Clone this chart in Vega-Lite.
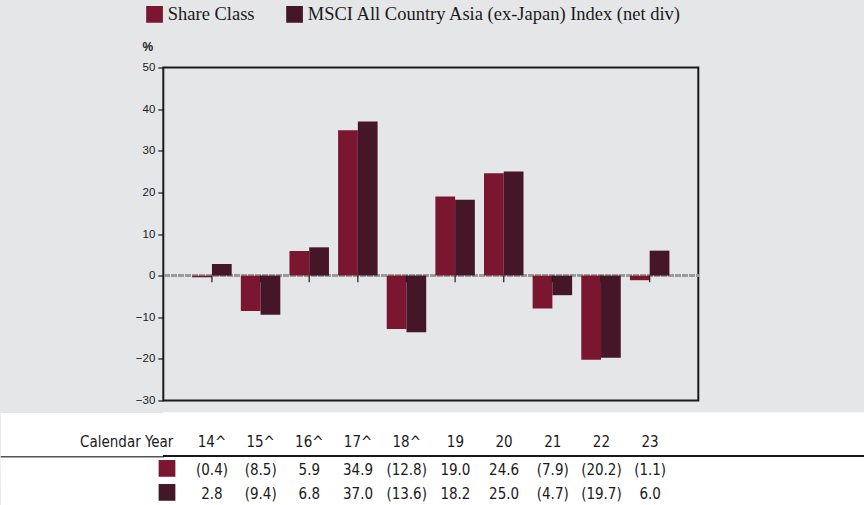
{
  "$schema": "https://vega.github.io/schema/vega-lite/v6.json",
  "padding": {"left": -31.7, "top": 3.5, "right": 0, "bottom": 0},
  "background": "#e5e6e8",
  "spacing": 4.8,
  "config": {"view": {"stroke": null}},
  "resolve": {"scale": {"color": "independent"}},
  "datasets": {
    "returns": [
      {"year": "14^", "series": "Share Class", "value": -0.4},
      {"year": "14^", "series": "MSCI All Country Asia (ex-Japan) Index (net div)", "value": 2.8},
      {"year": "15^", "series": "Share Class", "value": -8.5},
      {"year": "15^", "series": "MSCI All Country Asia (ex-Japan) Index (net div)", "value": -9.4},
      {"year": "16^", "series": "Share Class", "value": 5.9},
      {"year": "16^", "series": "MSCI All Country Asia (ex-Japan) Index (net div)", "value": 6.8},
      {"year": "17^", "series": "Share Class", "value": 34.9},
      {"year": "17^", "series": "MSCI All Country Asia (ex-Japan) Index (net div)", "value": 37.0},
      {"year": "18^", "series": "Share Class", "value": -12.8},
      {"year": "18^", "series": "MSCI All Country Asia (ex-Japan) Index (net div)", "value": -13.6},
      {"year": "19", "series": "Share Class", "value": 19.0},
      {"year": "19", "series": "MSCI All Country Asia (ex-Japan) Index (net div)", "value": 18.2},
      {"year": "20", "series": "Share Class", "value": 24.6},
      {"year": "20", "series": "MSCI All Country Asia (ex-Japan) Index (net div)", "value": 25.0},
      {"year": "21", "series": "Share Class", "value": -7.9},
      {"year": "21", "series": "MSCI All Country Asia (ex-Japan) Index (net div)", "value": -4.7},
      {"year": "22", "series": "Share Class", "value": -20.2},
      {"year": "22", "series": "MSCI All Country Asia (ex-Japan) Index (net div)", "value": -19.7},
      {"year": "23", "series": "Share Class", "value": -1.1},
      {"year": "23", "series": "MSCI All Country Asia (ex-Japan) Index (net div)", "value": 6.0}
    ]
  },
  "vconcat": [
    {
      "width": 535,
      "height": 333,
      "view": {"stroke": "#1a1a1a", "strokeWidth": 2, "fill": null},
      "data": {"name": "returns"},
      "layer": [
        {
          "mark": {"type": "rule", "color": "#9a9a9a", "strokeWidth": 2, "strokeDash": [2, 1.5]},
          "encoding": {"y": {"datum": 0, "type": "quantitative"}}
        },
        {
          "mark": {"type": "bar"},
          "encoding": {
            "x": {
              "field": "year", "type": "nominal", "sort": null,
              "scale": {"paddingInner": 0.188, "paddingOuter": 0.594},
              "axis": null
            },
            "xOffset": {
              "field": "series", "type": "nominal",
              "sort": ["Share Class", "MSCI All Country Asia (ex-Japan) Index (net div)"],
              "scale": {"paddingInner": 0, "paddingOuter": 0}
            },
            "y": {
              "field": "value", "type": "quantitative",
              "scale": {"domain": [-30, 50], "nice": false, "zero": false},
              "axis": {
                "title": "%", "titleAngle": 0, "titleFontWeight": "bold",
                "titleFont": "Liberation Sans", "titleFontSize": 12, "titleColor": "#1a1a1a",
                "titleX": -16, "titleY": -17, "titleAlign": "center", "titleBaseline": "alphabetic",
                "values": [-30, -20, -10, 0, 10, 20, 30, 40, 50],
                "domain": false, "grid": false,
                "tickSize": 5.5, "tickWidth": 1.2, "tickColor": "#1a1a1a",
                "labelFont": "Liberation Sans", "labelFontSize": 11.5, "labelColor": "#1a1a1a",
                "labelPadding": 3
              }
            },
            "color": {
              "field": "series", "type": "nominal",
              "scale": {
                "domain": ["Share Class", "MSCI All Country Asia (ex-Japan) Index (net div)"],
                "range": ["#7b1631", "#441628"]
              },
              "legend": {
                "title": null, "orient": "none", "legendX": -18, "legendY": -62.5,
                "direction": "horizontal", "symbolType": "square", "symbolSize": 280,
                "symbolStrokeWidth": 0, "symbolOpacity": 1,
                "labelFont": "Liberation Serif", "labelFontSize": 18.5, "labelColor": "#1a1a1a",
                "labelOffset": 4, "columnPadding": 30, "labelLimit": 600, "padding": 0
              }
            }
          }
        },
        {
          "transform": [{"filter": "datum.series === 'Share Class'"}],
          "mark": {"type": "rule", "color": "#1a1a1a", "strokeWidth": 1.2},
          "encoding": {
            "x": {"field": "year", "type": "nominal", "sort": null},
            "y": {"datum": 0, "type": "quantitative"},
            "y2": {"datum": -1.6}
          }
        }
      ]
    },
    {
      "width": 701,
      "height": 93,
      "view": {"fill": "white", "stroke": null},
      "data": {"name": "returns"},
      "layer": [
        {
          "mark": {"type": "rule", "color": "#1a1a1a", "strokeWidth": 1.3},
          "encoding": {
            "y": {
              "datum": "line", "type": "nominal",
              "scale": {
                "type": "point",
                "domain": ["hdr", "line", "Share Class", "gap", "MSCI All Country Asia (ex-Japan) Index (net div)"],
                "range": [31.7, 79.7], "padding": 0
              },
              "axis": {
                "title": null, "labels": false, "domain": false, "grid": false,
                "tickSize": 163,
                "tickColor": {"condition": {"test": "datum.value === 'line'", "value": "#1a1a1a"}, "value": "#ffffff"},
                "tickWidth": {
                  "condition": [
                    {"test": "datum.value === 'hdr'", "value": 63.4},
                    {"test": "datum.value === 'line'", "value": 1.3},
                    {"test": "datum.value === 'Share Class'", "value": 22},
                    {"test": "datum.value === 'gap'", "value": 1}
                  ],
                  "value": 27.4
                }
              }
            }
          }
        },
        {
          "transform": [{"filter": "datum.series === 'Share Class'"}],
          "mark": {"type": "text", "font": "DejaVu Sans Condensed", "fontSize": 15, "color": "#1a1a1a", "baseline": "middle", "dy": -2},
          "encoding": {
            "x": {
              "field": "year", "type": "nominal",
              "scale": {"type": "point", "domain": ["lab", "14^", "15^", "16^", "17^", "18^", "19", "20", "21", "22", "23"], "range": [0, 486.8], "padding": 0},
              "axis": null
            },
            "y": {"datum": "hdr", "type": "nominal"},
            "text": {"field": "year"}
          }
        },
        {
          "transform": [{"filter": "datum.series === 'Share Class' && datum.year === '14^'"}],
          "mark": {"type": "text", "font": "DejaVu Sans Condensed", "fontSize": 15, "color": "#1a1a1a", "baseline": "middle", "align": "right", "dx": 10, "dy": -2},
          "encoding": {
            "x": {"datum": "lab", "type": "nominal"},
            "y": {"datum": "hdr", "type": "nominal"},
            "text": {"value": "Calendar Year"}
          }
        },
        {
          "transform": [{"filter": "datum.year === '14^'"}],
          "mark": {"type": "square", "size": 280, "opacity": 1, "xOffset": 3.7, "yOffset": 0.4},
          "encoding": {
            "x": {"datum": "lab", "type": "nominal"},
            "y": {"field": "series", "type": "nominal"},
            "color": {
              "field": "series", "type": "nominal",
              "scale": {
                "domain": ["Share Class", "MSCI All Country Asia (ex-Japan) Index (net div)"],
                "range": ["#7b1631", "#441628"]
              },
              "legend": null
            }
          }
        },
        {
          "mark": {"type": "text", "font": "DejaVu Sans Condensed", "fontSize": 15, "color": "#1a1a1a", "baseline": "middle", "dy": 2.2},
          "encoding": {
            "x": {"field": "year", "type": "nominal"},
            "y": {"field": "series", "type": "nominal"},
            "text": {"field": "value", "type": "quantitative", "format": "(.1f"}
          }
        }
      ]
    }
  ]
}
